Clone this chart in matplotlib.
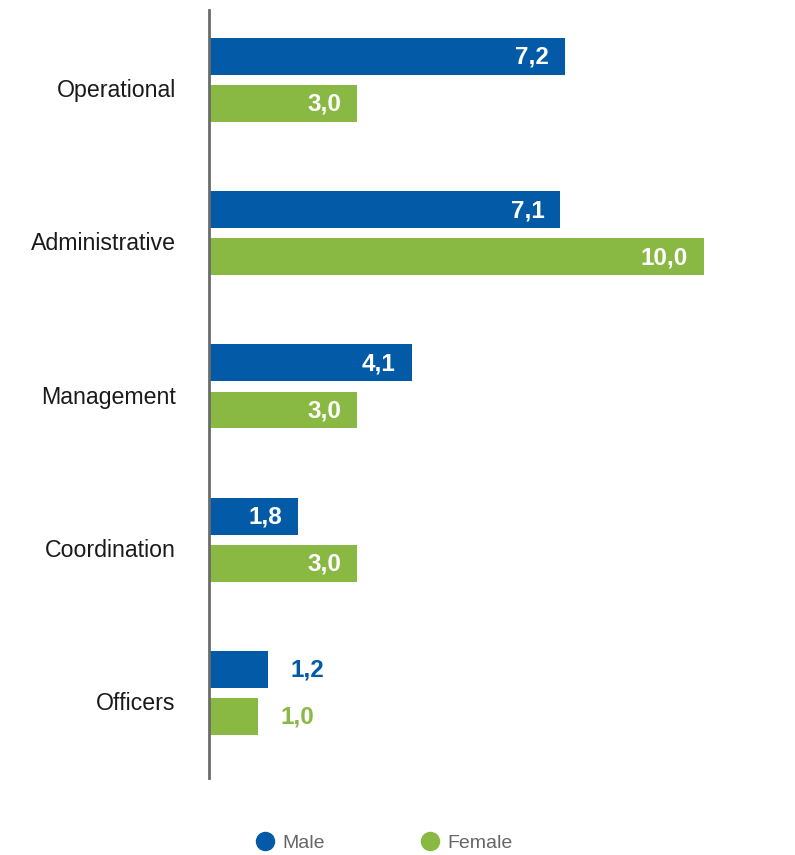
import matplotlib.pyplot as plt
from matplotlib.lines import Line2D
import numpy as np

categories = ["Operational", "Administrative", "Management", "Coordination", "Officers"]
male = [7.2, 7.1, 4.1, 1.8, 1.2]
female = [3.0, 10.0, 3.0, 3.0, 1.0]
series_names = ["Male", "Female"]

BLUE = "#035AA6"
GREEN = "#8AB943"

plt.rcParams["font.family"] = ["Liberation Sans", "DejaVu Sans"]

fig = plt.figure(figsize=(7.95, 8.55), dpi=100)
ax = fig.add_axes([209 / 795, 1 - 778 / 855, 569 / 795, 768 / 855])

idx = np.arange(len(categories))
male_y = idx + 0.303
female_y = idx + 0.610
bar_h = 0.241

ax.barh(male_y, male, height=bar_h, color=BLUE)
ax.barh(female_y, female, height=bar_h, color=GREEN)

ax.set_xlim(0, 11.5)
ax.set_ylim(768 / 153.25, 0)


def label_bars(ys, vals, color):
    for y, v in zip(ys, vals):
        txt = f"{v:.1f}".replace(".", ",")
        if v >= 1.5:
            ax.annotate(txt, (v, y), xytext=(-16, -1), textcoords="offset pixels",
                        ha="right", va="center", color="white",
                        fontsize=17.5, fontweight="bold")
        else:
            ax.annotate(txt, (v, y), xytext=(22, -1), textcoords="offset pixels",
                        ha="left", va="center", color=color,
                        fontsize=17.5, fontweight="bold")


label_bars(male_y, male, BLUE)
label_bars(female_y, female, GREEN)

ax.set_yticks(idx + 0.509)
ax.set_yticklabels(categories, fontsize=16.7, color="#1a1a1a")
ax.tick_params(axis="y", length=0, pad=24)
ax.set_xticks([])
for side in ["top", "right", "bottom"]:
    ax.spines[side].set_visible(False)
ax.spines["left"].set_color("#6b6b6b")
ax.spines["left"].set_linewidth(2)

handles = [
    Line2D([], [], marker="o", linestyle="none", markersize=13, color=BLUE),
    Line2D([], [], marker="o", linestyle="none", markersize=13, color=GREEN),
]
fig.legend(handles, series_names, loc="center left", bbox_to_anchor=(236 / 795, 1 - 843 / 855),
           ncol=2, frameon=False, fontsize=14, labelcolor="#666666",
           handletextpad=0.3, columnspacing=4.8, handlelength=1.2)

fig.savefig("out.png", dpi=100)
